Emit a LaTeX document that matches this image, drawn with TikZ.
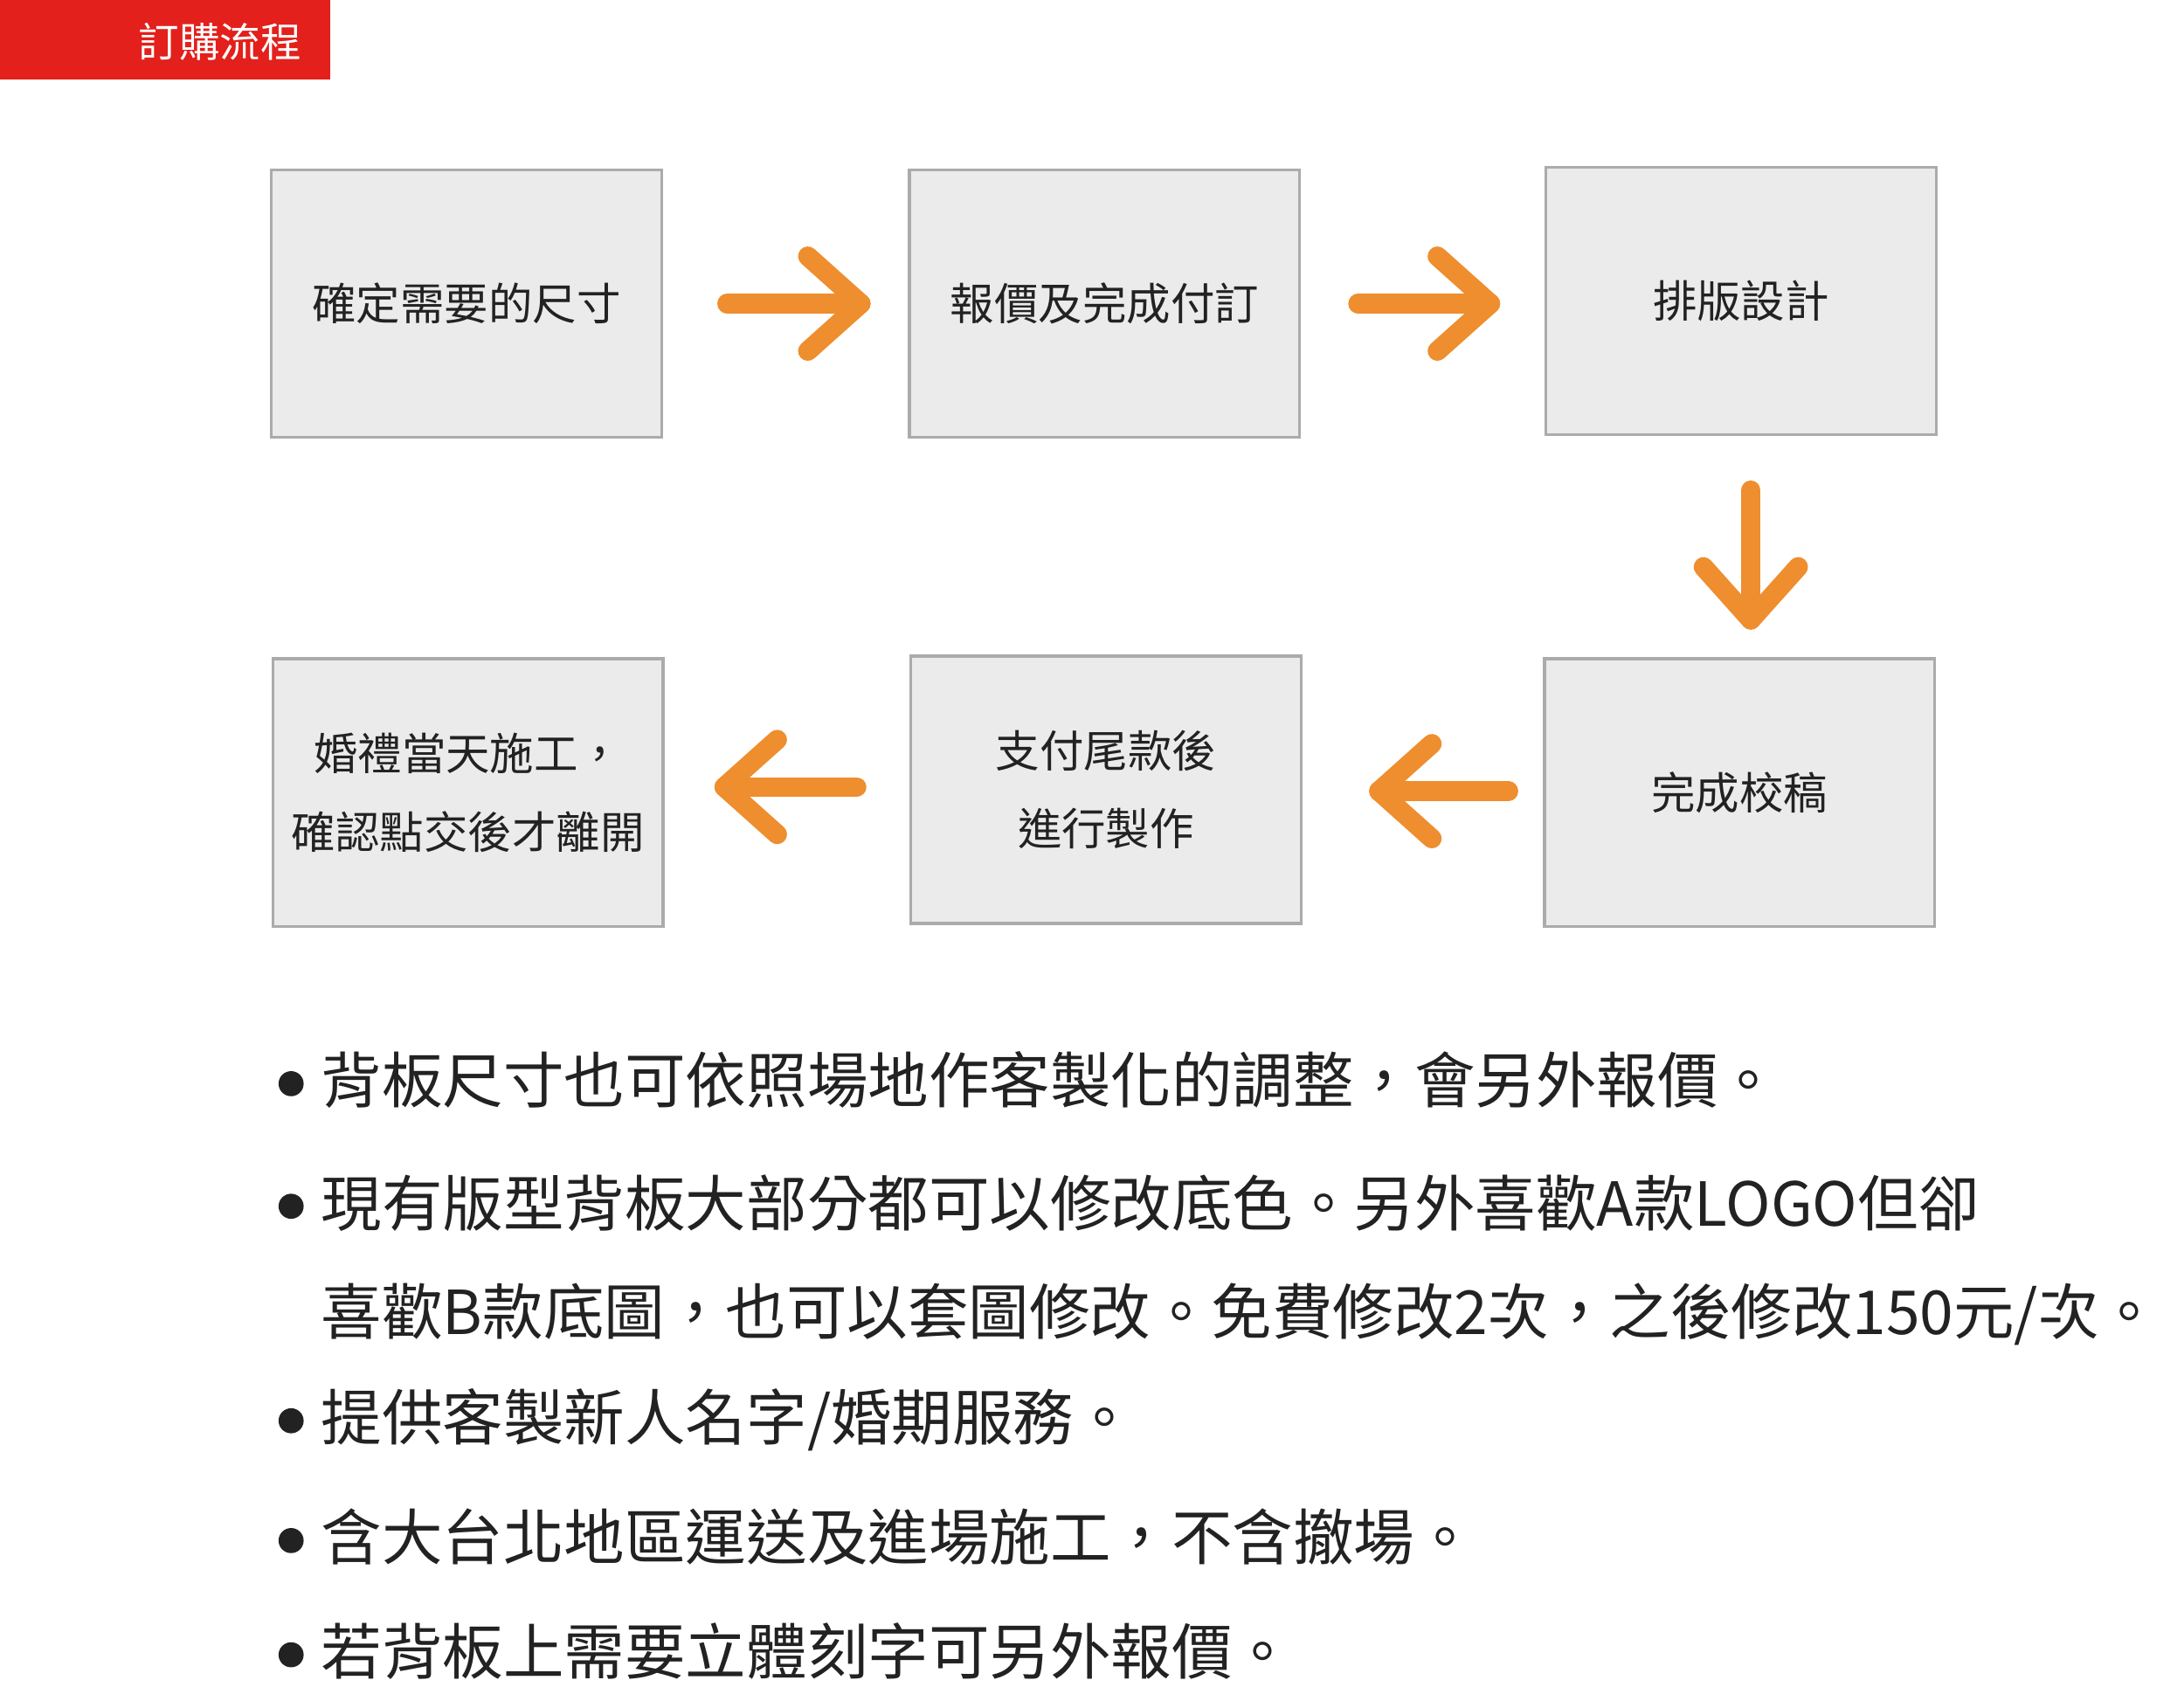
\documentclass[tikz,border=0pt]{standalone}
\usepackage{fontspec}
\setmainfont{Noto Sans CJK TC}
\definecolor{hdr}{HTML}{E3201B}
\definecolor{boxfill}{HTML}{EBEBEB}
\definecolor{boxline}{HTML}{ABABAB}
\definecolor{arr}{HTML}{EE8E2E}
\definecolor{txt}{HTML}{222222}
\begin{document}
\begin{tikzpicture}[x=0.01cm,y=-0.01cm,
  stepbox/.style={draw=boxline,fill=boxfill,line width=0.6pt,minimum width=2.8cm,minimum height=1.92cm,inner sep=0pt,align=center,font=\fontsize{9pt}{16pt}\selectfont,text=txt},
  arrline/.style={draw=arr,line width=4pt,line cap=round,line join=round},
  bul/.style={anchor=base west,inner sep=0pt,font=\fontsize{12.4pt}{14pt}\selectfont,text=txt}]
\useasboundingbox (0,0) rectangle (1568,1216);
\fill[hdr] (0,0) rectangle (237,57);
\node[text=white,font=\fontsize{8.3pt}{10pt}\selectfont] (hd) at (158,30) {訂購流程};
\node[stepbox] (b1) at (335,218) {確定需要的尺寸};
\node[stepbox] (b2) at (793,218) {報價及完成付訂};
\node[stepbox] (b3) at (1250,216) {排版設計};
\node[stepbox] (b6) at (336,569) {婚禮當天施工，\\確認點交後才離開};
\node[stepbox] (b5) at (794,567) {支付尾款後\\進行製作};
\node[stepbox] (b4) at (1249,569) {完成校稿};
\coordinate (a1s) at (522,218); \coordinate (a1t) at (618,218);
\coordinate (a2s) at (975,218); \coordinate (a2t) at (1070,218);
\coordinate (a3s) at (1257,352); \coordinate (a3t) at (1257,445);
\coordinate (a4s) at (1083,568); \coordinate (a4t) at (990,568);
\coordinate (a5s) at (615,565); \coordinate (a5t) at (520,565);
\draw[arrline] (a1s) -- (a1t);
\draw[arrline] (a1t) ++(-38,-34) -- (a1t) -- ++(-38,34);
\draw[arrline] (a2s) -- (a2t);
\draw[arrline] (a2t) ++(-38,-34) -- (a2t) -- ++(-38,34);
\draw[arrline] (a3s) -- (a3t);
\draw[arrline] (a3t) ++(-34,-38) -- (a3t) -- ++(34,-38);
\draw[arrline] (a4s) -- (a4t);
\draw[arrline] (a4t) ++(38,-34) -- (a4t) -- ++(38,34);
\draw[arrline] (a5s) -- (a5t);
\draw[arrline] (a5t) ++(38,-34) -- (a5t) -- ++(38,34);
\foreach \y in {778,866,1020,1106,1188} \fill[txt] (209,\y) circle (9);
\node[bul] (l1) at (230,792) {背板尺寸也可依照場地作客製化的調整，會另外報價。};
\node[bul] (l2) at (230,880) {現有版型背板大部分都可以修改底色。另外喜歡A款LOGO但卻};
\node[bul] (l3) at (230,958) {喜歡B款底圖，也可以套圖修改。免費修改2次，之後修改150元/次。};
\node[bul] (l4) at (230,1034) {提供客製新人名字/婚期服務。};
\node[bul] (l5) at (230,1120) {含大台北地區運送及進場施工，不含撤場。};
\node[bul] (l6) at (230,1202) {若背板上需要立體刻字可另外報價。};
\end{tikzpicture}
\end{document}
